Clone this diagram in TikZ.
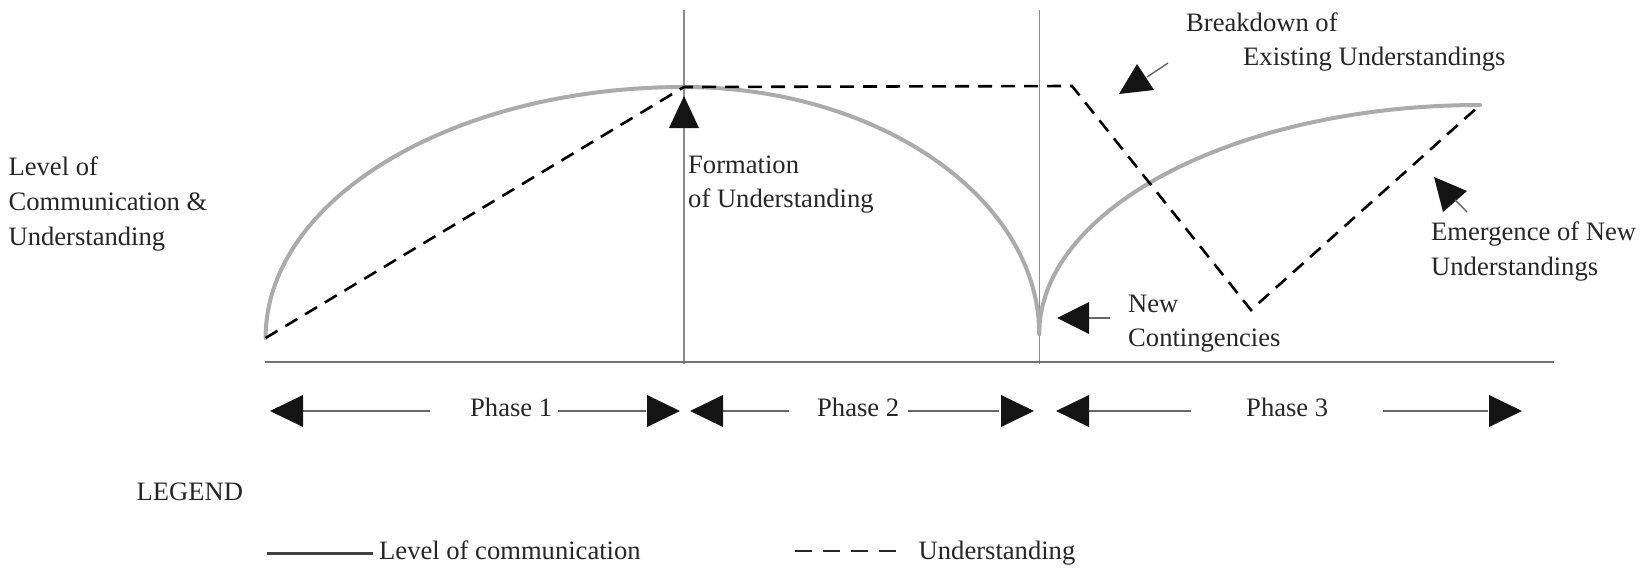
\documentclass[tikz,border=0pt]{standalone}
\usepackage{fontspec}
\setmainfont{Liberation Serif}
\begin{document}
\begin{tikzpicture}[x=1pt,y=-1pt,
  lbl/.style={anchor=base west, inner sep=0pt, font=\fontsize{26.6}{32}\selectfont, text=black!85},
  comm/.style={draw=black!33, line width=4pt, line cap=round},
  und/.style={draw=black, line width=2.6pt, dash pattern=on 14pt off 9pt},
  guide/.style={draw=black!45, line width=1.2pt},
  axis/.style={draw=black!55, line width=2pt},
  tri/.style={fill=black!92},
  stem/.style={draw=black!60, line width=1.4pt}]
\useasboundingbox (0,0) rectangle (1646,570);

% key points
\coordinate (c0) at (265.6,338);
\coordinate (top1) at (684,87);
\coordinate (c2) at (1039.2,334);
\coordinate (c3) at (1480,105);
\coordinate (u1) at (1072,86);
\coordinate (u2) at (1251,310);
\coordinate (u3) at (1479,106);
\coordinate (v1t) at (684,10);
\coordinate (v1b) at (684,364);
\coordinate (v2t) at (1039.2,10);
\coordinate (v2b) at (1039.2,364);
\coordinate (bl) at (265,362);
\coordinate (br) at (1554,362);

% guides and axis
\draw[guide] (v1t) -- (v1b);
\draw[guide] (v2t) -- (v2b);
\draw[axis] (bl) -- (br);

% level of communication
\draw[comm] (c0) .. controls (265.6,199.4) and (452,87) .. (top1);
\draw[comm] (top1) .. controls (879.4,87) and (1039.2,198.7) .. (c2);
\draw[comm] (c2) .. controls (1039.2,208.6) and (1236.5,105) .. (c3);

% understanding
\draw[und] (c0) -- (top1) -- (u1) -- (u2) -- (u3);

% annotation arrows
\fill[tri] (684,96) -- (669,128) -- (699,128) -- cycle;
\fill[tri] (1119,94) -- (1137,64) -- (1154,90) -- cycle;
\draw[stem] (1147,77) -- (1168,63);
\fill[tri] (1057,318) -- (1089,302) -- (1089,334) -- cycle;
\draw[stem] (1089,318) -- (1110,318);
\fill[tri] (1434,177) -- (1467,191) -- (1443,212) -- cycle;
\draw[stem] (1455,200) -- (1467,212);

% labels
\node[lbl] (lv1) at (8.4,175) {Level of};
\node[lbl] (lv2) at (8.4,210) {Communication \&};
\node[lbl] (lv3) at (8.4,245) {Understanding};
\node[lbl] (f1) at (688,173) {Formation};
\node[lbl] (f2) at (688,207) {of Understanding};
\node[lbl] (b1) at (1186,31) {Breakdown of};
\node[lbl] (b2) at (1243,65) {Existing Understandings};
\node[lbl] (n1) at (1128,312) {New};
\node[lbl] (n2) at (1128,346) {Contingencies};
\node[lbl] (e1) at (1431,240) {Emergence of New};
\node[lbl] (e2) at (1431,275) {Understandings};

% phases
\node[lbl] (p1) at (470,416) {Phase 1};
\node[lbl] (p2) at (817,416) {Phase 2};
\node[lbl] (p3) at (1246,416) {Phase 3};
\coordinate (p1a) at (303,411);
\coordinate (p1b) at (430,411);
\coordinate (p1c) at (558,411);
\coordinate (p1d) at (646,411);
\coordinate (p2a) at (723,411);
\coordinate (p2b) at (789,411);
\coordinate (p2c) at (908,411);
\coordinate (p2d) at (999,411);
\coordinate (p3a) at (1089,411);
\coordinate (p3b) at (1191,411);
\coordinate (p3c) at (1383,411);
\coordinate (p3d) at (1488,411);
\draw[stem] (p1a) -- (p1b);
\draw[stem] (p1c) -- (p1d);
\draw[stem] (p2a) -- (p2b);
\draw[stem] (p2c) -- (p2d);
\draw[stem] (p3a) -- (p3b);
\draw[stem] (p3c) -- (p3d);
\fill[tri] (270,411) -- (303,395) -- (303,427) -- cycle;
\fill[tri] (680,411) -- (647,395) -- (647,427) -- cycle;
\fill[tri] (690,411) -- (723,395) -- (723,427) -- cycle;
\fill[tri] (1034,411) -- (1001,395) -- (1001,427) -- cycle;
\fill[tri] (1056,411) -- (1089,395) -- (1089,427) -- cycle;
\fill[tri] (1522,411) -- (1489,395) -- (1489,427) -- cycle;

% legend
\node[lbl] (leg) at (136.5,500) {LEGEND};
\coordinate (l1a) at (267,553);
\coordinate (l1b) at (373,553);
\coordinate (l2a) at (795,551);
\coordinate (l2b) at (898,551);
\draw[draw=black!75, line width=3pt] (l1a) -- (l1b);
\node[lbl] (lt1) at (379,559) {Level of communication};
\draw[draw=black!85, line width=2.6pt, dash pattern=on 17pt off 11pt] (l2a) -- (l2b);
\node[lbl] (lt2) at (918.5,559) {Understanding};
\end{tikzpicture}
\end{document}
